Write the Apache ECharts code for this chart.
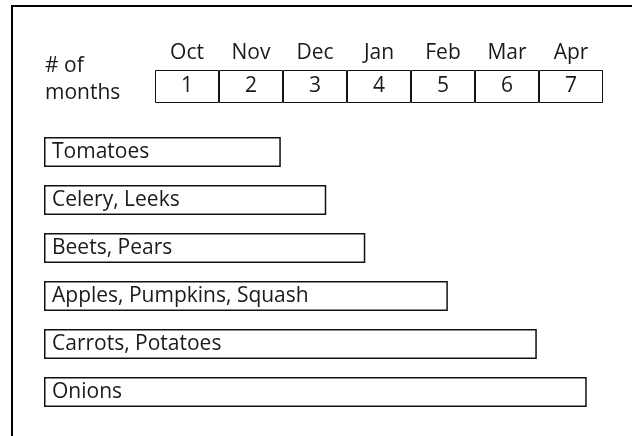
<!DOCTYPE html>
<html>
<head>
<meta charset="utf-8">
<script src="https://cdn.jsdelivr.net/npm/echarts@6/dist/echarts.min.js"></script>
<style>
  html, body { margin: 0; padding: 0; background: #fff; }
  #chart { width: 632px; height: 436px; }
</style>
</head>
<body>
<div id="chart"></div>
<script>
// month header table
const months = ['Oct', 'Nov', 'Dec', 'Jan', 'Feb', 'Mar', 'Apr'];
const monthCounts = ['1', '2', '3', '4', '5', '6', '7'];

// storage bars (length in month-cell widths)
const crops = ['Tomatoes', 'Celery, Leeks', 'Beets, Pears', 'Apples, Pumpkins, Squash', 'Carrots, Potatoes', 'Onions'];
const storage = [3.70, 4.41, 5.02, 6.31, 7.70, 8.48];

const font = '"Open Sans", sans-serif';
const ink = '#1a1a1a';

const chart = echarts.init(document.getElementById('chart'));

chart.setOption({
  animation: false,
  backgroundColor: '#fff',
  textStyle: { fontFamily: font },
  grid: [
    { left: 155, top: 70, width: 448, height: 33 },
    { left: 44, top: 128, width: 560, height: 288 }
  ],
  xAxis: [
    {
      gridIndex: 0,
      type: 'category',
      data: months,
      position: 'top',
      axisLine: { show: false },
      axisTick: { show: false },
      axisLabel: { color: ink, fontSize: 21, fontFamily: font, margin: 6 }
    },
    {
      gridIndex: 1,
      type: 'value',
      min: 0,
      max: 8.75,
      show: false
    }
  ],
  yAxis: [
    { gridIndex: 0, type: 'value', min: 0, max: 1, show: false },
    { gridIndex: 1, type: 'category', data: crops, inverse: true, show: false }
  ],
  graphic: [
    {
      type: 'polyline',
      shape: { points: [[12, 436], [12, 6], [632, 6]] },
      style: { stroke: '#000', lineWidth: 2, fill: null }
    },
    {
      type: 'text',
      left: 45,
      top: 53,
      style: { text: '# of\nmonths', fill: ink, font: '21px ' + font, lineHeight: 27 }
    }
  ],
  series: [
    {
      type: 'bar',
      xAxisIndex: 0,
      yAxisIndex: 0,
      data: monthCounts.map(() => 1),
      barWidth: '100%',
      itemStyle: { color: '#fff', borderColor: '#111', borderWidth: 1 },
      label: {
        show: true,
        position: 'inside',
        color: ink,
        fontSize: 21,
        fontFamily: font,
        formatter: p => monthCounts[p.dataIndex]
      }
    },
    {
      type: 'bar',
      xAxisIndex: 1,
      yAxisIndex: 1,
      data: storage,
      barWidth: 30,
      itemStyle: { color: '#fff', borderColor: '#111', borderWidth: 1.5 },
      label: {
        show: true,
        position: 'insideLeft',
        distance: 8,
        color: ink,
        fontSize: 21,
        fontFamily: font,
        formatter: '{b}'
      }
    }
  ]
});
</script>
</body>
</html>
